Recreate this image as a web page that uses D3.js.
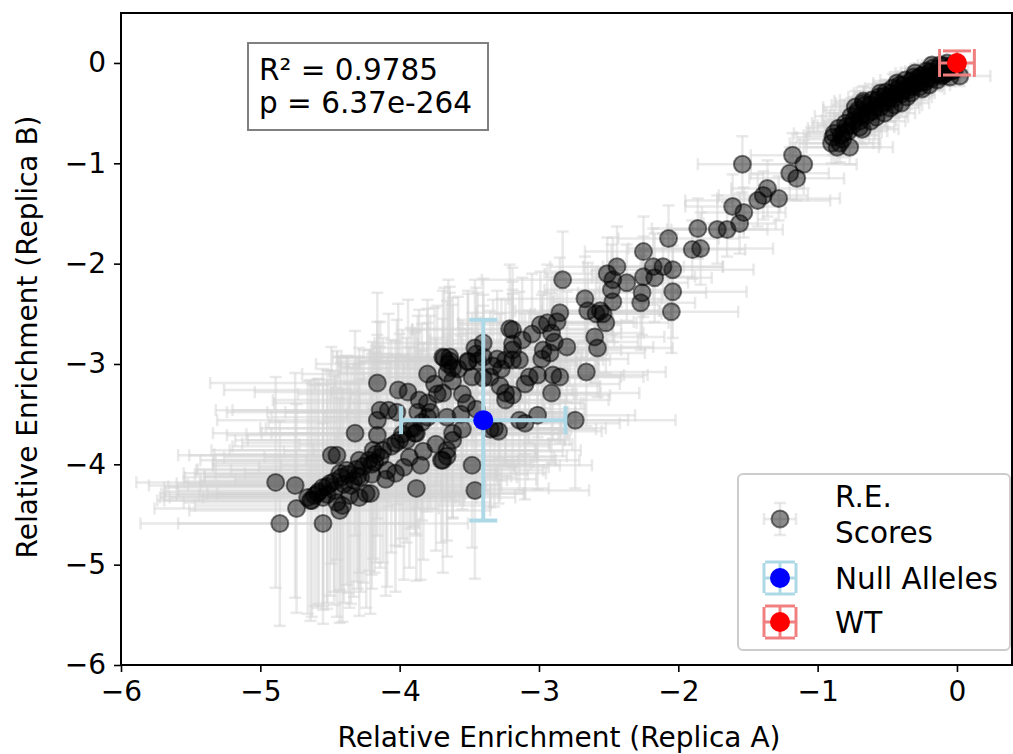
<!DOCTYPE html>
<html>
<head>
<meta charset="utf-8">
<script src="https://cdn.jsdelivr.net/npm/d3@7"></script>
<style>
  body { margin: 0; background: #fff; }
  svg text { font-family: "DejaVu Sans", sans-serif; }
</style>
</head>
<body>
<svg id="chart" width="1013" height="754"></svg>
<script>
// R.E. scores: [replica A, replica B, xerr, yerr]
const scoresHigh = [
  [-0.03,-0.02,0.08,0.06],[0.02,-0.13,0.22,0.10],[-0.06,-0.05,0.10,0.07],[-0.09,-0.03,0.12,0.08],
  [-0.11,-0.08,0.09,0.06],[-0.14,-0.06,0.11,0.10],[-0.16,-0.12,0.14,0.08],[-0.19,-0.09,0.10,0.07],
  [-0.21,-0.15,0.13,0.09],[-0.24,-0.12,0.16,0.11],[-0.26,-0.19,0.12,0.10],[-0.28,-0.15,0.15,0.08],
  [-0.31,-0.23,0.18,0.12],[-0.33,-0.18,0.13,0.09],[-0.35,-0.27,0.17,0.13],[-0.38,-0.22,0.14,0.11],
  [-0.40,-0.31,0.20,0.12],[-0.42,-0.26,0.16,0.10],[-0.45,-0.35,0.19,0.14],[-0.47,-0.30,0.15,0.12],
  [-0.50,-0.39,0.22,0.13],[-0.52,-0.33,0.18,0.15],[-0.55,-0.44,0.21,0.12],[-0.57,-0.37,0.17,0.14],
  [-0.60,-0.48,0.24,0.16],[-0.62,-0.42,0.19,0.13],[-0.65,-0.52,0.23,0.15],[-0.67,-0.40,0.20,0.17],
  [-0.70,-0.58,0.26,0.14],[-0.72,-0.50,0.22,0.16],[-0.75,-0.62,0.25,0.18],[-0.78,-0.68,0.28,0.15],
  [-0.80,-0.60,0.24,0.17],[-0.83,-0.72,0.27,0.19],[-0.86,-0.84,0.30,0.16],[-0.89,-0.74,0.26,0.18],
  [-0.88,-0.70,0.29,0.20],[-0.77,-0.84,0.31,0.17],[-0.85,-0.65,0.22,0.15],[-0.62,-0.58,0.25,0.14],
  [-0.48,-0.45,0.21,0.13],[-0.36,-0.34,0.18,0.12],[-0.25,-0.26,0.16,0.11],[-0.14,-0.17,0.13,0.10],
  [-0.08,-0.10,0.11,0.08],[-0.18,-0.02,0.10,0.07],[-0.30,-0.10,0.14,0.09],[-0.43,-0.20,0.17,0.11],
  [-0.55,-0.30,0.19,0.12],[-0.67,-0.38,0.21,0.14],[-0.73,-0.44,0.23,0.16],[-0.40,-0.40,0.20,0.13],
  [-0.52,-0.50,0.22,0.14],[-0.68,-0.66,0.26,0.15],[-0.58,-0.54,0.23,0.13],[-0.20,-0.22,0.15,0.10],
  [-0.33,-0.30,0.17,0.12],[-0.05,-0.14,0.12,0.09],
  [-0.04,-0.08,0.09,0.07],[-0.07,0.00,0.11,0.06],[-0.10,-0.12,0.10,0.09],[-0.12,-0.02,0.13,0.07],
  [-0.13,-0.11,0.12,0.08],[-0.17,-0.05,0.14,0.09],[-0.19,-0.16,0.11,0.10],[-0.22,-0.08,0.15,0.08],
  [-0.23,-0.19,0.13,0.11],[-0.26,-0.13,0.16,0.09],[-0.29,-0.20,0.14,0.12],[-0.31,-0.14,0.17,0.10],
  [-0.34,-0.24,0.15,0.11],[-0.37,-0.17,0.18,0.12],[-0.39,-0.28,0.16,0.13],[-0.41,-0.22,0.19,0.10],
  [-0.44,-0.31,0.17,0.12],[-0.46,-0.25,0.20,0.14],[-0.49,-0.35,0.18,0.13],[-0.51,-0.29,0.21,0.12],
  [-0.53,-0.40,0.19,0.15],[-0.56,-0.34,0.22,0.13],[-0.59,-0.44,0.20,0.14],[-0.61,-0.37,0.23,0.16],
  [-0.63,-0.49,0.21,0.15],[-0.66,-0.42,0.24,0.14],[-0.69,-0.53,0.22,0.17],[-0.71,-0.47,0.25,0.15],
  [-0.74,-0.57,0.23,0.16],[-0.76,-0.53,0.26,0.18],[-0.79,-0.63,0.24,0.17],[-0.81,-0.69,0.27,0.16],
  [-0.84,-0.80,0.29,0.19],[-0.82,-0.76,0.26,0.18],[-0.90,-0.80,0.30,0.20],[-0.70,-0.64,0.25,0.15],
  [-0.45,-0.42,0.20,0.13],[-0.27,-0.24,0.16,0.11],[-0.11,-0.13,0.12,0.09],[-0.02,-0.07,0.10,0.08]
];
const scoresMid = [
  [-1.54,-1.01,0.32,0.28],[-1.18,-0.92,0.30,0.22],[-1.10,-1.01,0.38,0.24],[-1.20,-1.10,0.28,0.26],
  [-1.15,-1.15,0.34,0.22],[-1.36,-1.25,0.26,0.28],[-1.39,-1.32,0.32,0.24],[-1.28,-1.35,0.44,0.22],
  [-1.43,-1.37,0.52,0.26],[-1.61,-1.43,0.34,0.32],[-1.53,-1.49,0.30,0.25],[-1.56,-1.60,0.26,0.30],
  [-1.65,-1.66,0.40,0.27],[-1.72,-1.66,0.36,0.34],[-1.86,-1.65,0.33,0.30],[-1.84,-1.85,0.52,0.36],
  [-1.90,-1.86,0.38,0.29],[-2.07,-1.75,0.36,0.33],[-2.25,-1.88,0.42,0.35],[-2.44,-2.03,0.48,0.40],
  [-2.51,-2.10,0.45,0.36],[-2.47,-2.16,0.40,0.42],[-2.18,-2.03,0.50,0.38],[-2.11,-2.03,0.43,0.33],
  [-2.04,-2.06,0.58,0.36],[-2.25,-2.13,0.37,0.40],[-2.17,-2.14,0.41,0.44],[-2.04,-2.28,0.53,0.46],
  [-2.05,-2.48,0.48,0.41],[-2.37,-2.19,0.44,0.38],[-2.26,-2.29,0.46,0.42],[-2.27,-2.39,0.39,0.47],
  [-2.48,-2.26,0.48,0.45],[-2.47,-2.38,0.43,0.40],[-2.65,-2.47,0.52,0.48],[-2.59,-2.50,0.47,0.43],
  [-2.52,-2.59,0.45,0.50],[-2.60,-2.73,0.50,0.46],[-2.67,-2.35,0.55,0.42],[-2.83,-2.16,0.58,0.48],
  [-2.56,-2.47,0.42,0.43],[-2.54,-2.50,0.49,0.45],[-2.58,-2.84,0.54,0.49],[-2.66,-3.08,0.57,0.54]
];
const scoresLow = [
  [-2.85,-2.49,0.60,0.55],[-2.87,-2.58,0.55,0.50],[-2.94,-2.59,0.64,0.58],[-2.99,-2.61,0.58,0.53],
  [-2.91,-2.69,0.66,0.56],[-2.89,-2.78,0.60,0.62],[-2.80,-2.83,0.62,0.55],[-2.92,-2.89,0.68,0.60],
  [-2.97,-2.86,0.56,0.58],[-3.19,-2.66,0.72,0.62],[-3.19,-2.86,0.68,0.60],[-3.19,-2.96,0.62,0.66],
  [-3.24,-2.96,0.70,0.60],[-3.14,-2.96,0.65,0.68],[-3.40,-2.79,0.78,0.64],[-3.40,-2.93,0.74,0.62],
  [-3.51,-2.98,0.78,0.68],[-3.64,-2.93,0.84,0.70],[-3.69,-2.93,0.76,0.66],[-3.62,-3.04,0.80,0.70],
  [-3.35,-3.13,0.72,0.66],[-3.48,-3.13,0.78,0.64],[-3.24,-3.29,0.68,0.70],[-3.24,-3.36,0.74,0.66],
  [-3.19,-3.31,0.70,0.72],[-3.07,-3.13,0.66,0.66],[-3.01,-3.11,0.62,0.62],[-2.90,-3.11,0.68,0.64],
  [-2.85,-3.13,0.60,0.66],[-2.91,-3.29,0.63,0.70],[-2.74,-3.56,0.72,0.68],[-3.01,-3.51,0.70,0.74],
  [-3.14,-3.56,0.78,0.70],[-3.10,-3.59,0.68,0.76],[-3.32,-3.64,0.80,0.78],[-3.52,-3.39,0.84,0.74],
  [-3.66,-3.53,0.88,0.80],[-3.62,-3.69,0.82,0.84],[-3.69,-3.29,0.80,0.74],[-3.48,-4.01,0.86,0.82],
  [-3.46,-4.26,0.82,0.88],[-3.88,-4.24,0.95,0.92],[-3.66,-3.92,0.86,0.84],[-3.70,-3.96,0.82,0.82],
  [-3.62,-3.76,0.84,0.78],[-3.55,-3.65,0.78,0.80],[-3.35,-3.65,0.76,0.78],[-3.29,-3.67,0.74,0.72],
  [-3.40,-3.14,0.78,0.72],[-3.46,-2.84,0.74,0.68],[-3.21,-2.65,0.70,0.64],[-3.19,-2.80,0.68,0.62],
  [-3.68,-2.94,0.74,0.70],[-3.64,-2.97,0.80,0.68],[-3.66,-3.09,0.78,0.72],[-3.62,-3.17,0.84,0.76],
  [-3.51,-2.97,0.78,0.70],[-3.44,-2.97,0.74,0.68],
  [-3.45,-2.90,0.76,0.66],[-3.30,-2.95,0.72,0.68],[-3.27,-3.05,0.70,0.70],[-3.33,-3.02,0.74,0.66],
  [-3.58,-3.05,0.80,0.72],[-3.12,-2.76,0.66,0.62],[-3.05,-2.70,0.64,0.60],[-2.98,-2.95,0.62,0.64],
  [-3.10,-3.20,0.68,0.70],[-3.28,-3.22,0.72,0.72],[-3.55,-3.30,0.80,0.74],[-3.75,-3.20,0.86,0.76],
  [-3.80,-3.10,0.90,0.74],[-3.56,-3.50,0.82,0.78],[-3.45,-3.45,0.78,0.76]
];
const scoresTail = [
  [-4.16,-3.19,1.20,0.90],[-4.01,-3.26,1.25,0.86],[-3.94,-3.28,1.10,0.92],[-4.14,-3.46,1.18,0.88],
  [-4.08,-3.46,1.12,0.96],[-4.02,-3.48,1.22,0.92],[-4.16,-3.56,1.15,0.98],[-4.32,-3.69,1.02,1.02],
  [-4.16,-3.71,1.08,1.00],[-3.86,-3.36,1.05,0.90],[-3.80,-3.39,1.10,0.94],[-3.73,-3.30,1.00,0.88],
  [-3.65,-3.00,0.95,0.84],[-3.87,-3.48,1.08,0.96],[-3.80,-3.53,1.12,0.94],[-3.89,-3.69,1.10,1.00],
  [-3.95,-3.76,1.14,1.02],[-4.00,-3.76,1.18,1.06],[-4.03,-3.79,1.10,1.02],[-4.19,-3.86,1.16,1.08],
  [-4.14,-3.93,1.12,1.10],[-4.29,-3.96,1.14,1.12],[-4.49,-3.91,1.10,1.08],[-4.45,-3.91,1.06,1.04],
  [-4.38,-4.06,1.08,1.14],[-4.43,-4.09,1.12,1.16],[-4.50,-4.19,1.10,1.12],[-4.55,-4.23,1.14,1.18],
  [-4.59,-4.29,1.12,1.14],[-4.64,-4.36,1.10,1.20],[-4.61,-4.31,1.08,1.10],[-4.89,-4.18,1.00,1.05],
  [-4.75,-4.21,1.05,1.12],[-4.74,-4.44,1.02,1.04],[-4.63,-4.36,1.06,1.16],[-4.55,-4.33,1.10,1.12],
  [-4.86,-4.59,1.00,1.02],[-4.55,-4.59,1.04,1.00],[-4.43,-4.46,1.08,1.12],[-4.41,-4.41,1.06,1.16],
  [-4.29,-4.33,1.12,1.18],[-4.24,-4.29,1.14,1.14],[-4.21,-4.29,1.10,1.20],[-4.09,-4.06,1.12,1.16],
  [-4.03,-4.09,1.08,1.18],[-3.93,-3.93,1.04,1.10],[-3.85,-4.01,1.00,1.14],[-3.69,-3.96,0.98,1.12],
  [-3.66,-3.86,0.96,1.06],[-3.90,-3.64,1.06,0.98],[-3.88,-3.69,1.04,1.02],[-4.28,-4.13,1.12,1.14],
  [-4.33,-4.16,1.10,1.16],[-4.20,-4.00,1.14,1.10],[-4.35,-4.21,1.08,1.18],[-4.47,-4.26,1.12,1.14],
  [-4.58,-4.27,1.10,1.12],[-4.52,-4.22,1.14,1.16],[-4.47,-4.17,1.08,1.10],[-4.42,-4.13,1.12,1.14],
  [-4.37,-4.10,1.10,1.18],[-4.31,-4.05,1.14,1.12],[-4.26,-4.02,1.08,1.16],[-4.22,-3.96,1.12,1.10],
  [-4.17,-3.90,1.16,1.08],[-4.12,-3.86,1.10,1.12],[-4.06,-3.82,1.14,1.06],[-4.52,-4.30,1.08,1.14],
  [-4.40,-4.20,1.12,1.18],[-4.30,-4.12,1.10,1.12],[-4.18,-3.98,1.14,1.10],[-4.66,-4.33,1.06,1.16],
  [-3.98,-3.70,1.12,1.04],[-3.92,-3.64,1.08,1.00],[-3.84,-3.58,1.10,0.98],[-3.78,-3.48,1.04,0.96],
  [-4.20,-4.10,1.12,1.14],[-4.10,-4.15,1.08,1.16],[-3.97,-4.03,1.04,1.12],[-3.83,-3.87,1.00,1.08],
  [-3.74,-3.80,0.98,1.06],[-4.45,-4.38,1.10,1.14],[-4.36,-4.31,1.08,1.12]
];
const scores = [...scoresHigh, ...scoresMid, ...scoresLow, ...scoresTail];
const nullAlleles = [[-3.40, -3.56, 0.59, 1.0]];
const wildType = [[0.0, 0.0, 0.125, 0.12]];
const xTicks = [-6, -5, -4, -3, -2, -1, 0];
const yTicks = [-6, -5, -4, -3, -2, -1, 0];
const statLines = ["R\u00b2 = 0.9785", "p = 6.37e-264"];
const legendLabels = [["R.E.", "Scores"], ["Null Alleles"], ["WT"]];

const svg = d3.select("#chart");
const plotLeft = 121, plotRight = 1012, plotTop = 13, plotBottom = 665;
const fs = 28, fsBox = 29.5;

const x = d3.scaleLinear().domain([-6, 0.395]).range([plotLeft, plotRight]);
const y = d3.scaleLinear().domain([-6, 0.498]).range([plotBottom, plotTop]);

svg.append("defs").append("clipPath").attr("id", "clip")
  .append("rect").attr("x", plotLeft).attr("y", plotTop)
  .attr("width", plotRight - plotLeft).attr("height", plotBottom - plotTop);

const plot = svg.append("g").attr("clip-path", "url(#clip)");

// barres d'erreur : horizontales + verticales avec leurs caps
function errorBars(g, data, color, opacity, width, cap) {
  const grp = g.append("g").attr("stroke", color).attr("stroke-opacity", opacity)
    .attr("stroke-width", width).attr("fill", "none");
  data.forEach(d => {
    const cx = x(d[0]), cy = y(d[1]);
    const x0 = x(d[0] - d[2]), x1 = x(d[0] + d[2]);
    const y0 = y(d[1] - d[3]), y1 = y(d[1] + d[3]);
    grp.append("line").attr("x1", x0).attr("x2", x1).attr("y1", cy).attr("y2", cy);
    grp.append("line").attr("x1", cx).attr("x2", cx).attr("y1", y0).attr("y2", y1);
    [x0, x1].forEach(v => grp.append("line").attr("x1", v).attr("x2", v)
      .attr("y1", cy - cap).attr("y2", cy + cap));
    [y0, y1].forEach(v => grp.append("line").attr("y1", v).attr("y2", v)
      .attr("x1", cx - cap).attr("x2", cx + cap));
  });
}

errorBars(plot, scores, "#d3d3d3", 0.5, 2.5, 6);
plot.append("g").selectAll("circle").data(scores).enter().append("circle")
  .attr("cx", d => x(d[0])).attr("cy", d => y(d[1])).attr("r", 8.5)
  .attr("fill", "#000").attr("fill-opacity", 0.45)
  .attr("stroke", "#000").attr("stroke-opacity", 0.5).attr("stroke-width", 2);

errorBars(plot, nullAlleles, "#add8e6", 1, 4, 14);
plot.append("g").selectAll("circle").data(nullAlleles).enter().append("circle")
  .attr("cx", d => x(d[0])).attr("cy", d => y(d[1])).attr("r", 10).attr("fill", "#0000ff");

errorBars(plot, wildType, "#f08080", 1, 3, 14);
plot.append("g").selectAll("circle").data(wildType).enter().append("circle")
  .attr("cx", d => x(d[0])).attr("cy", d => y(d[1])).attr("r", 10).attr("fill", "#ff0000");

// axes
const fmt = d3.format("d");
const xAxis = svg.append("g").attr("transform", `translate(0,${plotBottom})`)
  .call(d3.axisBottom(x).tickValues(xTicks).tickFormat(fmt).tickSize(7).tickPadding(9).tickSizeOuter(0));
const yAxis = svg.append("g").attr("transform", `translate(${plotLeft},0)`)
  .call(d3.axisLeft(y).tickValues(yTicks).tickFormat(fmt).tickSize(7).tickPadding(8).tickSizeOuter(0));
[xAxis, yAxis].forEach(a => {
  a.selectAll("text").attr("font-size", fs).attr("fill", "#000").style("font-family", "DejaVu Sans");
  a.selectAll(".tick line").attr("stroke", "#000").attr("stroke-width", 1.6);
  a.select(".domain").remove();
});

svg.append("rect").attr("x", plotLeft).attr("y", plotTop)
  .attr("width", plotRight - plotLeft).attr("height", plotBottom - plotTop)
  .attr("fill", "none").attr("stroke", "#000").attr("stroke-width", 2);

svg.append("text").attr("x", 559).attr("y", 747)
  .attr("text-anchor", "middle").attr("font-size", fs)
  .text("Relative Enrichment (Replica A)");
svg.append("text").attr("transform", `translate(37,${(plotTop + plotBottom) / 2 - 2}) rotate(-90)`)
  .attr("text-anchor", "middle").attr("font-size", fs)
  .text("Relative Enrichment (Replica B)");

// encadré R² / p
svg.append("rect").attr("x", 248).attr("y", 43).attr("width", 240).attr("height", 87)
  .attr("fill", "#fff").attr("stroke", "#808080").attr("stroke-width", 2);
statLines.forEach((t, i) => svg.append("text").attr("x", 259).attr("y", 80 + i * 33)
  .attr("font-size", fsBox).text(t));

// légende
const lg = svg.append("g");
lg.append("rect").attr("x", 738).attr("y", 474).attr("width", 272).attr("height", 176)
  .attr("rx", 5).attr("fill", "#fff").attr("fill-opacity", 0.8)
  .attr("stroke", "#cccccc").attr("stroke-width", 2);

function legendMarker(cy, fill, fillOp, errColor, errOp, cap, w) {
  const cx = 780, h = 16;
  const g = lg.append("g").attr("stroke", errColor).attr("stroke-opacity", errOp).attr("stroke-width", w);
  g.append("line").attr("x1", cx - h).attr("x2", cx + h).attr("y1", cy).attr("y2", cy);
  g.append("line").attr("x1", cx).attr("x2", cx).attr("y1", cy - h).attr("y2", cy + h);
  [cx - h, cx + h].forEach(v => g.append("line").attr("x1", v).attr("x2", v).attr("y1", cy - cap).attr("y2", cy + cap));
  [cy - h, cy + h].forEach(v => g.append("line").attr("y1", v).attr("y2", v).attr("x1", cx - cap).attr("x2", cx + cap));
  const c = lg.append("circle").attr("cx", cx).attr("cy", cy).attr("r", fillOp < 1 ? 8.5 : 10)
    .attr("fill", fill).attr("fill-opacity", fillOp);
  if (fillOp < 1) c.attr("stroke", "#000").attr("stroke-opacity", 0.5).attr("stroke-width", 2);
}
legendMarker(519, "#000", 0.45, "#d3d3d3", 0.5, 6, 2.5);
legendMarker(578, "#0000ff", 1, "#add8e6", 1, 15, 3);
legendMarker(622, "#ff0000", 1, "#f08080", 1, 15, 3);

const lgBase = [[507, 543], [589], [633]];
legendLabels.forEach((lines, i) => lines.forEach((t, j) =>
  lg.append("text").attr("x", 835).attr("y", lgBase[i][j]).attr("font-size", fsBox).text(t)));
</script>
</body>
</html>
